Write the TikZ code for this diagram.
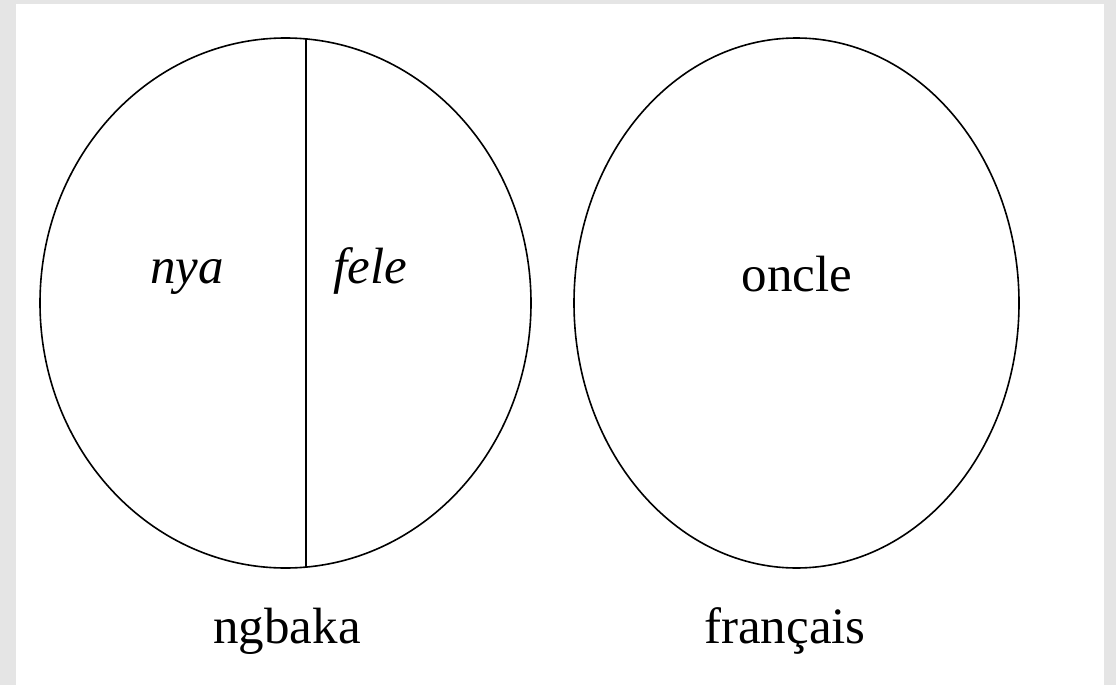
\documentclass[tikz,border=0pt]{standalone}
\usepackage{fontspec}
\setmainfont{Liberation Serif}
\begin{document}
\begin{tikzpicture}[x=1pt,y=-1pt,
  shape line/.style={draw=black,line width=1.6pt},
  lbl/.style={anchor=base,inner sep=0pt,font=\fontsize{51}{60}\selectfont}]
\useasboundingbox (0,0) rectangle (1116,685);
\fill[gray!20] (0,0) rectangle (1116,685);
\fill[white] (16,4) rectangle (1104,685);
\draw[shape line] (285.5,303) ellipse [x radius=245.5, y radius=265];
\draw[shape line] (796.5,303) ellipse [x radius=222.5, y radius=265];
\coordinate (top) at (306,38.8);
\coordinate (bot) at (306,567.2);
\draw[shape line] (top) -- (bot);
\node[lbl] (nya) at (187,283) {\itshape nya};
\node[lbl] (fele) at (370,283) {\itshape fele};
\node[lbl] (oncle) at (797,291) {oncle};
\node[lbl] (ngbaka) at (287,643) {ngbaka};
\node[lbl] (francais) at (785,643) {français};
\end{tikzpicture}
\end{document}
